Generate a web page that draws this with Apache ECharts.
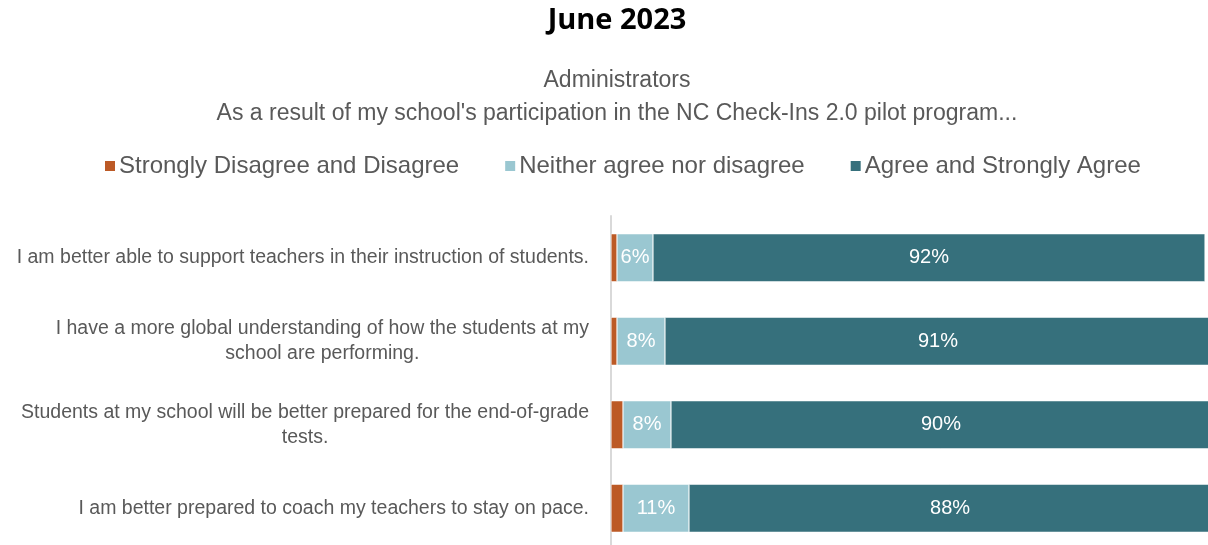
<!DOCTYPE html>
<html>
<head>
<meta charset="utf-8">
<script src="https://cdn.jsdelivr.net/npm/echarts@6/dist/echarts.min.js"></script>
<style>
  html, body { margin: 0; padding: 0; background: #ffffff; }
  #chart { width: 1208px; height: 545px; }
</style>
</head>
<body>
<div id="chart"></div>
<script>
const categories = [
  "I am better able to support teachers in their instruction of students.",
  "I have a more global understanding of how the students at my\nschool are performing.",
  "Students at my school will be better prepared for the end-of-grade\ntests.",
  "I am better prepared to coach my teachers to stay on pace."
];
const seriesNames = ["Strongly Disagree and Disagree", "Neither agree nor disagree", "Agree and Strongly Agree"];
const disagree = [1, 1, 2, 2];
const neither = [6, 8, 8, 11];
const agree = [92, 91, 90, 88];

const SANS = '"Liberation Sans", Arial, sans-serif';
const colors = ['#BC5A26', '#9AC7D1', '#36707C'];

const chart = echarts.init(document.getElementById('chart'), null, { renderer: 'canvas' });

function centeredLines(v) {
  return v.split('\n').map(l => '{c|' + l + '}').join('\n');
}

const labelCfg = {
  show: true,
  position: 'inside',
  color: '#ffffff',
  fontFamily: SANS,
  fontSize: 20,
  formatter: p => p.value + '%'
};

chart.setOption({
  animation: false,
  backgroundColor: '#ffffff',
  title: [
    {
      text: 'June 2023',
      left: 612, top: 1, textAlign: 'center',
      textStyle: { fontFamily: '"Open Sans", sans-serif', fontWeight: 'bold', fontSize: 29, color: '#000000' }
    },
    {
      text: 'Administrators',
      left: 612, top: 64, textAlign: 'center',
      textStyle: { fontFamily: SANS, fontWeight: 'normal', fontSize: 23, color: '#595959' }
    },
    {
      text: "As a result of my school's participation in the NC Check-Ins 2.0 pilot program...",
      left: 612, top: 97, textAlign: 'center',
      textStyle: { fontFamily: SANS, fontWeight: 'normal', fontSize: 23, color: '#595959' }
    }
  ],
  legend: {
    top: 149, left: 98,
    icon: 'rect', itemWidth: 12, itemHeight: 12, itemGap: 44,
    textStyle: { fontFamily: SANS, fontSize: 24, color: '#595959', padding: [0, 0, 0, -2] },
    data: seriesNames
  },
  grid: { left: 611, right: -3, top: 216, bottom: -5, containLabel: false, outerBoundsMode: 'none' },
  xAxis: { type: 'value', min: 0, max: 100, show: false },
  yAxis: {
    type: 'category', inverse: true, data: categories,
    axisLine: { show: true, lineStyle: { color: '#d9d9d9', width: 2 } },
    axisTick: { show: false },
    axisLabel: {
      margin: 22, align: 'right',
      fontFamily: SANS, fontSize: 19.5, color: '#595959', lineHeight: 25,
      formatter: centeredLines,
      rich: { c: { align: 'center', fontFamily: SANS, fontSize: 19.5, color: '#595959', lineHeight: 25 } }
    }
  },
  series: [
    { name: seriesNames[0], type: 'bar', stack: 'all', data: disagree, barWidth: 48,
      itemStyle: { color: colors[0], borderColor: '#ffffff', borderWidth: 0.5 }, label: { show: false } },
    { name: seriesNames[1], type: 'bar', stack: 'all', data: neither, barWidth: 48,
      itemStyle: { color: colors[1], borderColor: '#ffffff', borderWidth: 0.5 }, label: labelCfg },
    { name: seriesNames[2], type: 'bar', stack: 'all', data: agree, barWidth: 48,
      itemStyle: { color: colors[2], borderColor: '#ffffff', borderWidth: 0.5 }, label: labelCfg }
  ]
});
</script>
</body>
</html>
